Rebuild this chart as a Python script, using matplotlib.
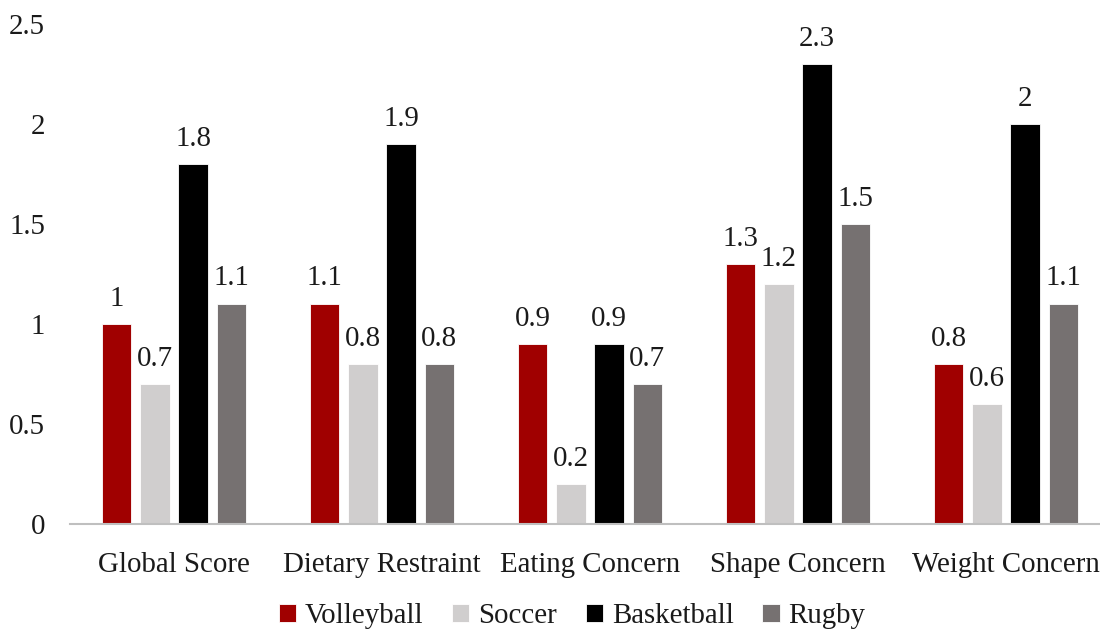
import matplotlib

matplotlib.use("Agg")
import matplotlib.pyplot as plt
import numpy as np

categories = ["Global Score", "Dietary Restraint", "Eating Concern", "Shape Concern", "Weight Concern"]
sports = ["Volleyball", "Soccer", "Basketball", "Rugby"]
volleyball = [1.0, 1.1, 0.9, 1.3, 0.8]
soccer = [0.7, 0.8, 0.2, 1.2, 0.6]
basketball = [1.8, 1.9, 0.9, 2.3, 2.0]
rugby = [1.1, 0.8, 0.7, 1.5, 1.1]
yticks = [0, 0.5, 1, 1.5, 2, 2.5]
ytick_labels = ["0", "0.5", "1", "1.5", "2", "2.5"]

COLORS = ["#a00000", "#d0cece", "#000000", "#767171"]
AXIS = "#bfbfbf"
INK = "#1a1a1a"
FS = 20.8

plt.rcParams.update({
    "font.family": ["Liberation Serif", "DejaVu Serif"],
    "font.size": FS,
    "text.color": INK,
    "xtick.color": INK,
    "ytick.color": INK,
})

fig = plt.figure(figsize=(11, 6.32), dpi=100)
# axes run slightly past the right edge, so the last label gets cut
ax = fig.add_axes([70 / 1100, 1 - 524 / 632, 1040 / 1100, 500 / 632])

x = np.arange(len(categories))
w = 0.14
step = 0.183
series = [volleyball, soccer, basketball, rugby]
for i, (name, vals, col) in enumerate(zip(sports, series, COLORS)):
    xs = x + (i - 1.5) * step
    ax.bar(xs, vals, w, color=col, label=name, edgecolor="white", linewidth=0.6)
    for xi, v in zip(xs, vals):
        ax.annotate(f"{v:g}", (xi, v), xytext=(0, 9), textcoords="offset points",
                    ha="center", va="bottom", fontsize=FS)

ax.set_xlim(-0.5, len(categories) - 0.5)
ax.set_ylim(0, 2.5)
ax.set_yticks(yticks)
ax.set_yticklabels(ytick_labels)
ax.set_xticks(x)
ax.set_xticklabels(categories)
ax.tick_params(axis="y", length=0, pad=18)
ax.tick_params(axis="x", length=0, pad=20)
for s in ("top", "right", "left"):
    ax.spines[s].set_visible(False)
ax.spines["bottom"].set_color(AXIS)
ax.spines["bottom"].set_linewidth(1.5)

ax.legend(loc="center", bbox_to_anchor=(572 / 1100, 1 - 616 / 632), bbox_transform=fig.transFigure,
          ncol=4, frameon=False, handlelength=0.6, handleheight=0.6, handletextpad=0.3,
          columnspacing=1.0, fontsize=FS)

fig.savefig("out.png", dpi=100, facecolor="white")
